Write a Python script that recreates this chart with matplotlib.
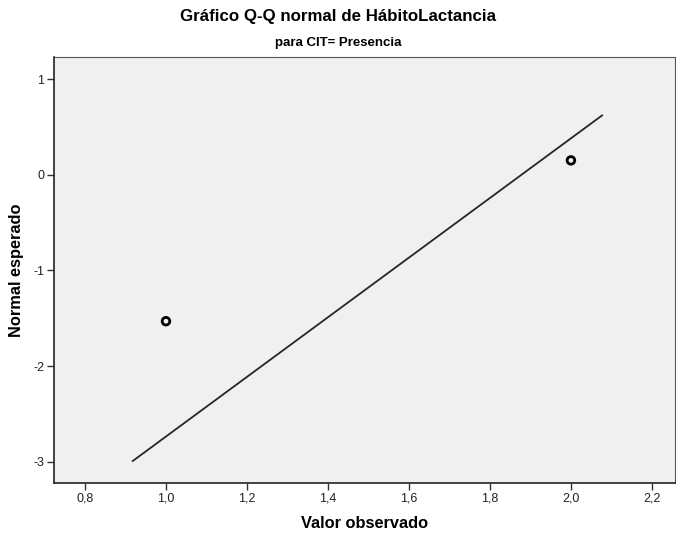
import matplotlib
matplotlib.use("Agg")
import matplotlib.pyplot as plt

# data
observed = [1.0, 2.0]
expected_normal = [-1.53, 0.15]
line_x = [0.918, 2.077]
line_y = [-2.99, 0.62]

x_ticks = [0.8, 1.0, 1.2, 1.4, 1.6, 1.8, 2.0, 2.2]
y_ticks = [-3, -2, -1, 0, 1]

plt.rcParams['font.family'] = ['Liberation Sans', 'DejaVu Sans']

fig = plt.figure(figsize=(6.76, 5.35), dpi=100)
ax = fig.add_axes([54 / 676, 52 / 535, 621 / 676, 426 / 535])
ax.set_facecolor('#f0f0f0')

ax.plot(line_x, line_y, color='#262626', linewidth=1.3)
ax.scatter(observed, expected_normal, s=30, facecolors='none',
           edgecolors='black', linewidths=2.0, zorder=3)

ax.set_xlim(0.7235, 2.257)
ax.set_ylim(-3.22, 1.23)
ax.set_xticks(x_ticks)
ax.set_xticklabels([f"{v:.1f}".replace('.', ',') for v in x_ticks])
ax.set_yticks(y_ticks)
ax.set_yticklabels([str(v) for v in y_ticks])
ax.tick_params(direction='out', length=5, width=1, colors='#333333',
               labelsize=9, labelcolor='#222222', pad=2)

for side in ['left', 'bottom']:
    ax.spines[side].set_color('#222222')
    ax.spines[side].set_linewidth(1.2)
for side in ['top', 'right']:
    ax.spines[side].set_color('#555555')
    ax.spines[side].set_linewidth(0.8)

ax.set_xlabel('Valor observado', fontsize=11.8, fontweight='bold', labelpad=8)
ax.set_ylabel('Normal esperado', fontsize=11.8, fontweight='bold', labelpad=7)

fig.text(0.5, 1 - 17 / 535, 'Gráfico Q-Q normal de HábitoLactancia',
         ha='center', va='center', fontsize=12.2, fontweight='bold')
fig.text(338 / 676, 1 - 43 / 535, 'para CIT= Presencia',
         ha='center', va='center', fontsize=9.5, fontweight='bold')

fig.savefig('out.png', dpi=100)
